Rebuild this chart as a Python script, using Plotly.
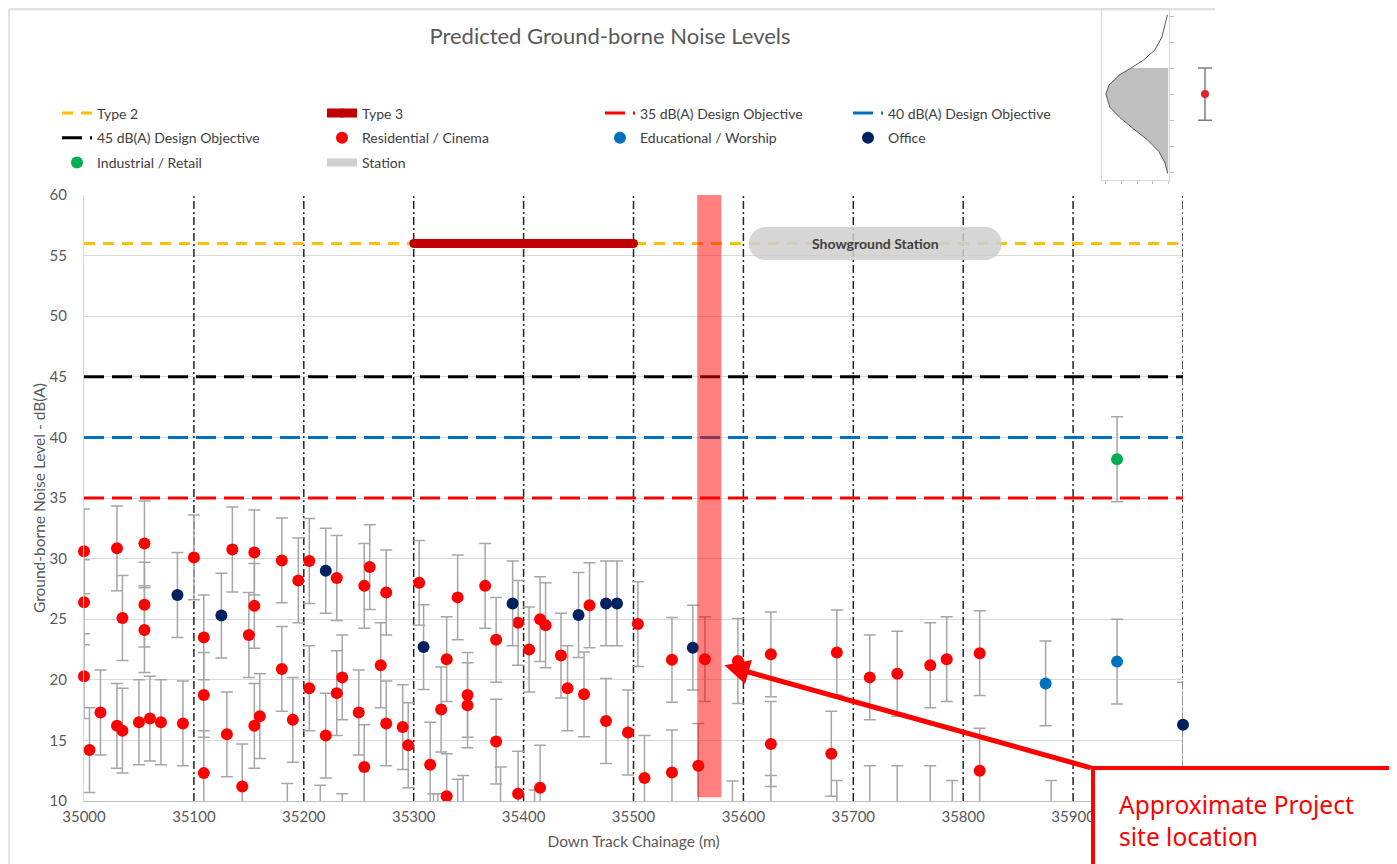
import plotly.graph_objects as go

# page is rendered with an 8px body margin: figure spans page pixels 8..1397 / 8..864
OFF = 8
W, H = 1397 - OFF, 864 - OFF

# ---------------- data ----------------
res_x = [35000, 35000, 35000, 35005, 35015, 35030, 35035, 35030, 35035, 35050,
         35055, 35055, 35055, 35060, 35070, 35090, 35100, 35109, 35109, 35109,
         35130, 35135, 35144, 35150, 35155, 35155, 35155, 35160, 35180, 35180,
         35190, 35195, 35205, 35205, 35220, 35230, 35230, 35235, 35250, 35255,
         35255, 35260, 35270, 35275, 35275, 35290, 35295, 35305, 35315, 35325,
         35330, 35330, 35340, 35349, 35349, 35365, 35375, 35375, 35395, 35395,
         35405, 35415, 35420, 35415, 35434, 35440, 35455, 35460, 35475, 35495,
         35504, 35510, 35535, 35535, 35559, 35565, 35595, 35625, 35625, 35680,
         35685, 35715, 35740, 35770, 35785, 35815, 35815,
         35185, 35215, 35235, 35318, 35322, 35340, 35345, 35379, 35410, 35590,
         35625, 35685, 35715, 35740, 35770, 35790, 35880]
res_y = [30.6, 26.4, 20.3, 14.2, 17.3, 30.85, 25.1, 16.2, 15.8, 16.5,
         31.25, 26.2, 24.1, 16.8, 16.5, 16.4, 30.1, 23.5, 18.75, 12.3,
         15.5, 30.75, 11.2, 23.7, 30.5, 26.1, 16.2, 17.0, 29.85, 20.9,
         16.7, 28.2, 29.8, 19.3, 15.4, 28.4, 18.9, 20.2, 17.3, 27.75,
         12.8, 29.3, 21.2, 27.2, 16.4, 16.1, 14.6, 28.0, 13.0, 17.55,
         21.7, 10.4, 26.8, 18.75, 17.9, 27.75, 23.3, 14.9, 24.7, 10.6,
         22.5, 25.0, 24.5, 11.1, 22.0, 19.3, 18.8, 26.15, 16.6, 15.65,
         24.6, 11.9, 21.65, 12.35, 12.9, 21.7, 21.55, 22.1, 14.7, 13.9,
         22.25, 20.2, 20.5, 21.2, 21.7, 22.2, 12.5,
         7.95, 7.8, 7.1, 7.1, 7.1, 8.3, 8.6, 9.3, 7.4, 8.15,
         8.6, 8.2, 9.4, 9.4, 9.4, 8.2, 8.2]

edu_x = [35875, 35940]
edu_y = [19.7, 21.5]

off_x = [35085, 35125, 35220, 35309, 35390, 35450, 35475, 35485, 35554, 36000]
off_y = [27.0, 25.3, 29.0, 22.7, 26.3, 25.35, 26.3, 26.3, 22.65, 16.3]

ind_x = [35940]
ind_y = [38.2]

err = 3.5  # +/- uncertainty (dB)

section_bounds = [35100, 35200, 35300, 35400, 35500, 35600, 35700, 35800, 35900, 36000]
objective_levels = [35, 40, 45]
objective_names = ["35 dB(A) Design Objective", "40 dB(A) Design Objective", "45 dB(A) Design Objective"]
objective_colors = ["#ff0000", "#0070c0", "#000000"]
objective_legends = ["legend3", "legend4", "legend"]

type2_x = [35000, 36000]
type2_y = [56, 56]
type3_x = [35300, 35500]
type3_y = [56, 56]
station_x = [35620, 35820]
station_y = [56, 56]
station_label_x = 35720
project_site_x = [35558, 35580]

x_range = [35000, 36000]
y_range = [10, 60]
x_ticks = [35000, 35100, 35200, 35300, 35400, 35500, 35600, 35700, 35800, 35900]

# inset (illustrative distribution)
inset_sigma = [3.05, 2.6, 2.2, 1.7, 1.3, 1.0, 0.75, 0.35, 0.0, -0.5, -0.9, -1.35, -1.75, -2.2, -2.65, -3.05]
inset_density = [0.005, 0.025, 0.04, 0.085, 0.16, 0.24, 0.31, 0.38, 0.40, 0.375, 0.31, 0.22, 0.135, 0.06, 0.02, 0.004]

FONT = "Lato"
TXT = "#595959"


def px(v):
    return (v - OFF) / W


def py(v):
    return 1 - (v - OFF) / H


XD = [px(84), px(1183)]
YD = [py(801), py(195)]

fig = go.Figure()

# section boundaries (dash-dot verticals)
bx, by = [], []
for b in section_bounds:
    bx += [b, b, None]
    by += [y_range[0], y_range[1], None]
fig.add_trace(go.Scatter(x=bx, y=by, mode="lines", showlegend=False, hoverinfo="skip",
                         line=dict(color="#262626", width=1.5, dash="8px,3px,2px,3px")))

# Type 2
fig.add_trace(go.Scatter(x=type2_x, y=type2_y, mode="lines", name="Type 2", legend="legend",
                         legendgroup="Type 2",
                         line=dict(color="#ffc000", width=3, dash="11px,8px")))
# Type 3
fig.add_trace(go.Scatter(x=type3_x, y=type3_y, mode="lines+markers", name="Type 3", legend="legend2",
                         legendgroup="Type 3",
                         line=dict(color="#c00000", width=9),
                         marker=dict(color="#c00000", size=9)))
# Design objectives
for lvl, nm, col, lg in zip(objective_levels, objective_names, objective_colors, objective_legends):
    fig.add_trace(go.Scatter(x=x_range, y=[lvl, lvl], mode="lines", name=nm, legend=lg, legendgroup=nm,
                             line=dict(color=col, width=3, dash="20px,8px")))

# Station band
fig.add_trace(go.Scatter(x=station_x, y=station_y, mode="lines+markers", showlegend=False,
                         opacity=0.85, hoverinfo="skip",
                         line=dict(color="#cfcfcf", width=33),
                         marker=dict(color="#cfcfcf", size=33)))

ebar = dict(type="constant", value=err, color="#a6a6a6", thickness=1.5, width=6)


def add_points(xs, ys, name, color, legend):
    inside_x = [x for x, y in zip(xs, ys) if y - err >= y_range[0]]
    inside_y = [y for y in ys if y - err >= y_range[0]]
    out_x = [x for x, y in zip(xs, ys) if y - err < y_range[0]]
    out_y = [y for y in ys if y - err < y_range[0]]
    if out_x:
        fig.add_trace(go.Scatter(x=out_x, y=out_y, mode="markers", name=name, legendgroup=name,
                                 legend=legend, showlegend=False, cliponaxis=True, error_y=ebar,
                                 marker=dict(color=color, size=12)))
    fig.add_trace(go.Scatter(x=inside_x, y=inside_y, mode="markers", name=name, legendgroup=name,
                             legend=legend, cliponaxis=False, error_y=ebar,
                             marker=dict(color=color, size=12)))


add_points(res_x, res_y, "Residential / Cinema", "#ff0000", "legend2")
add_points(edu_x, edu_y, "Educational / Worship", "#0070c0", "legend3")
add_points(off_x, off_y, "Office", "#002060", "legend4")
add_points(ind_x, ind_y, "Industrial / Retail", "#00b050", "legend")

# Station legend entry
fig.add_trace(go.Scatter(x=[None], y=[None], mode="lines", name="Station", legend="legend2",
                         legendgroup="Station", line=dict(color="#d0d0d0", width=8)))

# ---------------- inset ----------------
shade_s = [s for s in inset_sigma if s <= 1.0] + [inset_sigma[-1], 1.0]
shade_d = [d for s, d in zip(inset_sigma, inset_density) if s <= 1.0] + [0, 0]
fig.add_trace(go.Scatter(x=shade_d, y=shade_s, xaxis="x2", yaxis="y2", mode="lines", fill="toself",
                         fillcolor="#bfbfbf", line=dict(width=0), showlegend=False, hoverinfo="skip"))
fig.add_trace(go.Scatter(x=inset_density, y=inset_sigma, xaxis="x2", yaxis="y2", mode="lines",
                         line=dict(color="#595959", width=1), showlegend=False, hoverinfo="skip"))
fig.add_trace(go.Scatter(x=[0], y=[0], xaxis="x3", yaxis="y3", mode="markers", showlegend=False,
                         marker=dict(color="#e0202a", size=8),
                         error_y=dict(type="constant", value=1, color="#7f7f7f", thickness=1.5, width=7)))

legend_common = dict(orientation="v", xanchor="left", yanchor="top", traceorder="grouped",
                     tracegroupgap=3.5, bgcolor="rgba(0,0,0,0)",
                     font=dict(family=FONT, size=14, color="#404040"))
LEG_TOP = py(97.5)

fig.update_layout(
    width=W, height=H, template="none",
    margin=dict(l=0, r=0, t=0, b=0),
    paper_bgcolor="white", plot_bgcolor="white",
    font=dict(family=FONT, size=13, color=TXT),
    title=dict(text="Predicted Ground-borne Noise Levels", x=px(610), y=py(36),
               xanchor="center", yanchor="middle", font=dict(family=FONT, size=22, color=TXT)),
    legend=dict(x=px(57), y=LEG_TOP, **legend_common),
    legend2=dict(x=px(322), y=LEG_TOP, **legend_common),
    legend3=dict(x=px(600), y=LEG_TOP, **legend_common),
    legend4=dict(x=px(848), y=LEG_TOP, **legend_common),
    xaxis=dict(domain=XD, range=x_range, tickvals=x_ticks, tickformat="d", showgrid=False, zeroline=False,
               showline=True, linecolor="#bfbfbf", linewidth=1, ticks="", ticklabelstandoff=2,
               tickfont=dict(family=FONT, size=15, color=TXT), automargin=False,
               title=dict(text="Down Track Chainage (m)", standoff=12,
                          font=dict(family=FONT, size=15.5, color=TXT))),
    yaxis=dict(domain=YD, range=y_range, dtick=5, showgrid=True, gridcolor="#d9d9d9", gridwidth=1,
               zeroline=False, showline=True, linecolor="#d9d9d9", ticks="", ticklabelstandoff=13,
               tickfont=dict(family=FONT, size=15, color=TXT), automargin=False,
               title=dict(text="Ground-borne Noise Level - dB(A)", standoff=0,
                          font=dict(family=FONT, size=15.5, color=TXT))),
    xaxis2=dict(domain=[px(1102), px(1169)], anchor="y2", range=[0.425, -0.005], showgrid=False,
                zeroline=False, showline=True, mirror=True, linecolor="#d9d9d9",
                ticks="outside", ticklen=3, tickcolor="#bfbfbf", tickvals=[0, 0.1, 0.2, 0.3, 0.4],
                showticklabels=False, automargin=False, fixedrange=True),
    yaxis2=dict(domain=[py(180), py(9)], anchor="x2", side="right", range=[-3.3, 3.27], showgrid=False,
                zeroline=False, showline=True, mirror=True, linecolor="#d9d9d9",
                ticks="outside", ticklen=4, tickcolor="#bfbfbf", tickvals=[-3, -2, -1, 0, 1, 2, 3],
                showticklabels=False, automargin=False, fixedrange=True),
    xaxis3=dict(domain=[px(1190), px(1220)], anchor="y3", range=[-1, 1], visible=False, fixedrange=True),
    yaxis3=dict(domain=[py(180), py(9)], anchor="x3", range=[-3.3, 3.27], visible=False, fixedrange=True),
)

shapes = [
    # page frame
    dict(type="line", xref="paper", yref="paper", x0=px(9), x1=px(1215), y0=py(9), y1=py(9),
         line=dict(color="#e3e3e3", width=3), layer="below"),
    dict(type="line", xref="paper", yref="paper", x0=px(9), x1=px(9), y0=py(9), y1=0,
         line=dict(color="#e3e3e3", width=2), layer="below"),
    # project site band
    dict(type="rect", xref="x", yref="y", x0=project_site_x[0], x1=project_site_x[1], y0=10.3, y1=60,
         fillcolor="rgba(255,0,0,0.5)", line=dict(width=0), layer="above"),
    # callout box
    dict(type="rect", xref="paper", yref="paper", x0=px(1093), x1=px(1410), y0=py(880), y1=py(768),
         fillcolor="white", line=dict(color="#ff0000", width=4), layer="above"),
]
fig.update_layout(shapes=shapes)

fig.add_annotation(x=station_label_x, y=station_y[0], xref="x", yref="y", text="<b>Showground Station</b>",
                   showarrow=False, font=dict(family=FONT, size=14, color="#404040"))
fig.add_annotation(x=35582.7, y=21.2, xref="x", yref="y", ax=368, ay=103, text="",
                   showarrow=True, arrowhead=2, arrowsize=1, arrowwidth=5, arrowcolor="#ff0000")
fig.add_annotation(x=px(1117), y=py(820), xref="paper", yref="paper", xanchor="left", yanchor="middle",
                   align="left", showarrow=False, text="Approximate Project<br>site location",
                   font=dict(family="Noto Sans", size=24.5, color="#ff0000"))

fig.write_html("out.html")
